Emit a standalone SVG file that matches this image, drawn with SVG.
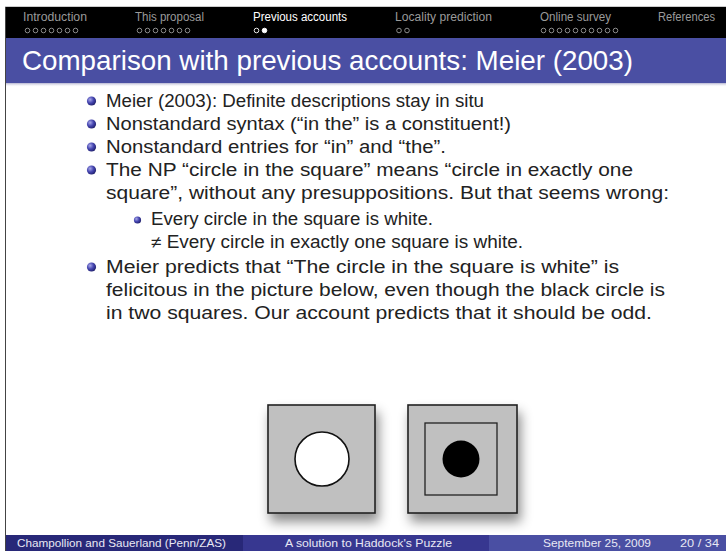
<svg xmlns="http://www.w3.org/2000/svg" width="726" height="551" viewBox="0 0 726 551">
<style>
.hd{font-family:"Liberation Sans",Arial,sans-serif;font-size:12px;fill:#9a9a9a}
.hd.act{fill:#ffffff}
.dot{fill:none;stroke:#9a9a9a;stroke-width:0.9}
.dot.act{stroke:#ffffff}
.dotf{fill:#ffffff;stroke:#ffffff;stroke-width:0.9}
.ttl{font-family:"Liberation Sans",Arial,sans-serif;font-size:27.5px;fill:#ffffff}
.b{font-family:"Liberation Sans",Arial,sans-serif;font-size:18.7px;fill:#222222}
.s{font-family:"Liberation Sans",Arial,sans-serif;font-size:17.5px;fill:#222222}
.ft{font-family:"Liberation Sans",Arial,sans-serif;font-size:11.5px;fill:#e8e8f4}
.sq{fill:#c0c0c0;stroke:#222222;stroke-width:1.6}
</style>
<defs>
<radialGradient id="ball" cx="0.35" cy="0.35" r="0.75">
<stop offset="0" stop-color="#a8a8e8"/>
<stop offset="0.5" stop-color="#4545b0"/>
<stop offset="1" stop-color="#1a1a60"/>
</radialGradient>
<linearGradient id="tshadow" x1="0" y1="0" x2="0" y2="1">
<stop offset="0" stop-color="#8080b0" stop-opacity="0.6"/>
<stop offset="1" stop-color="#ffffff" stop-opacity="0"/>
</linearGradient>
<filter id="shadow" x="-20%" y="-20%" width="150%" height="150%">
<feDropShadow dx="3" dy="8" stdDeviation="6" flood-color="#000000" flood-opacity="0.45"/>
</filter>
</defs>
<rect x="0" y="0" width="726" height="551" fill="#ffffff"/>
<line x1="5" y1="6.5" x2="726" y2="6.5" stroke="#cccccc" stroke-width="1"/>
<line x1="5.5" y1="7" x2="5.5" y2="551" stroke="#444444" stroke-width="1"/>

<g id="header">
<rect x="6" y="7" width="720" height="31" fill="#000000"/>
<text class="hd" x="23" y="21" textLength="64" lengthAdjust="spacingAndGlyphs">Introduction</text>
<text class="hd" x="135" y="21" textLength="69" lengthAdjust="spacingAndGlyphs">This proposal</text>
<text class="hd act" x="253" y="21" textLength="94" lengthAdjust="spacingAndGlyphs">Previous accounts</text>
<text class="hd" x="395" y="21" textLength="97" lengthAdjust="spacingAndGlyphs">Locality prediction</text>
<text class="hd" x="540" y="21" textLength="71" lengthAdjust="spacingAndGlyphs">Online survey</text>
<text class="hd" x="658" y="21" textLength="57" lengthAdjust="spacingAndGlyphs">References</text>
<g>
<circle class="dot" cx="27.5" cy="30.5" r="2.3"/><circle class="dot" cx="35.5" cy="30.5" r="2.3"/><circle class="dot" cx="43.5" cy="30.5" r="2.3"/><circle class="dot" cx="51.5" cy="30.5" r="2.3"/><circle class="dot" cx="59.5" cy="30.5" r="2.3"/><circle class="dot" cx="67.5" cy="30.5" r="2.3"/><circle class="dot" cx="75.5" cy="30.5" r="2.3"/>
<circle class="dot" cx="139.5" cy="30.5" r="2.3"/><circle class="dot" cx="147.5" cy="30.5" r="2.3"/><circle class="dot" cx="155.5" cy="30.5" r="2.3"/><circle class="dot" cx="163.5" cy="30.5" r="2.3"/><circle class="dot" cx="171.5" cy="30.5" r="2.3"/><circle class="dot" cx="179.5" cy="30.5" r="2.3"/><circle class="dot" cx="187.5" cy="30.5" r="2.3"/>
<circle class="dot act" cx="256.5" cy="30.5" r="2.3"/><circle class="dotf" cx="264.5" cy="30.5" r="2.3"/>
<circle class="dot" cx="399" cy="30.5" r="2.3"/><circle class="dot" cx="407" cy="30.5" r="2.3"/>
<circle class="dot" cx="543.5" cy="30.5" r="2.3"/><circle class="dot" cx="551.5" cy="30.5" r="2.3"/><circle class="dot" cx="559.5" cy="30.5" r="2.3"/><circle class="dot" cx="567.5" cy="30.5" r="2.3"/><circle class="dot" cx="575.5" cy="30.5" r="2.3"/><circle class="dot" cx="583.5" cy="30.5" r="2.3"/><circle class="dot" cx="591.5" cy="30.5" r="2.3"/><circle class="dot" cx="599.5" cy="30.5" r="2.3"/><circle class="dot" cx="607.5" cy="30.5" r="2.3"/><circle class="dot" cx="615.5" cy="30.5" r="2.3"/>
</g>
</g>

<g id="title">
<rect x="6" y="38" width="720" height="45" fill="#4a4fa3"/>
<rect x="6" y="83" width="720" height="4" fill="url(#tshadow)"/>
<text class="ttl" x="22" y="70" textLength="611" lengthAdjust="spacingAndGlyphs">Comparison with previous accounts: Meier (2003)</text>
</g>

<g id="body">
<circle cx="91.5" cy="101" r="4.6" fill="url(#ball)"/>
<text class="b" x="106" y="107" textLength="378" lengthAdjust="spacingAndGlyphs">Meier (2003): Definite descriptions stay in situ</text>
<circle cx="91.5" cy="124" r="4.6" fill="url(#ball)"/>
<text class="b" x="106" y="130" textLength="405" lengthAdjust="spacingAndGlyphs">Nonstandard syntax (“in the” is a constituent!)</text>
<circle cx="91.5" cy="147" r="4.6" fill="url(#ball)"/>
<text class="b" x="106" y="153" textLength="340" lengthAdjust="spacingAndGlyphs">Nonstandard entries for “in” and “the”.</text>
<circle cx="91.5" cy="170" r="4.6" fill="url(#ball)"/>
<text class="b" x="106" y="176" textLength="527" lengthAdjust="spacingAndGlyphs">The NP “circle in the square” means “circle in exactly one</text>
<text class="b" x="106" y="199" textLength="563" lengthAdjust="spacingAndGlyphs">square”, without any presuppositions. But that seems wrong:</text>
<circle cx="137.5" cy="220" r="3.6" fill="url(#ball)"/>
<text class="s" x="151" y="225" textLength="282" lengthAdjust="spacingAndGlyphs">Every circle in the square is white.</text>
<text class="s" x="151" y="248" textLength="372" lengthAdjust="spacingAndGlyphs">≠ Every circle in exactly one square is white.</text>
<circle cx="91.5" cy="267" r="4.6" fill="url(#ball)"/>
<text class="b" x="106" y="273" textLength="513" lengthAdjust="spacingAndGlyphs">Meier predicts that “The circle in the square is white” is</text>
<text class="b" x="106" y="296" textLength="559" lengthAdjust="spacingAndGlyphs">felicitous in the picture below, even though the black circle is</text>
<text class="b" x="106" y="319" textLength="546" lengthAdjust="spacingAndGlyphs">in two squares. Our account predicts that it should be odd.</text>
</g>

<g id="picture-left">
<rect class="sq" x="268" y="405" width="107" height="108" filter="url(#shadow)"/>
<circle cx="322" cy="459" r="27" fill="#ffffff" stroke="#111111" stroke-width="1.6"/>
</g>
<g id="picture-right">
<rect class="sq" x="408" y="405" width="109" height="108" filter="url(#shadow)"/>
<rect x="425" y="423" width="72" height="72" fill="#c0c0c0" stroke="#222222" stroke-width="1.3"/>
<circle cx="461" cy="459" r="18.5" fill="#000000"/>
</g>

<g id="footer">
<rect x="6" y="535" width="237" height="16" fill="#282878"/>
<rect x="243" y="535" width="246" height="16" fill="#373790"/>
<rect x="489" y="535" width="237" height="16" fill="#4a4fa3"/>
<text class="ft" x="17" y="547" textLength="209" lengthAdjust="spacingAndGlyphs">Champollion and Sauerland  (Penn/ZAS)</text>
<text class="ft" x="285" y="547" textLength="167" lengthAdjust="spacingAndGlyphs">A solution to Haddock's Puzzle</text>
<text class="ft" x="543" y="547" textLength="108" lengthAdjust="spacingAndGlyphs">September 25, 2009</text>
<text class="ft" x="680" y="547" textLength="39" lengthAdjust="spacingAndGlyphs">20 / 34</text>
</g>
</svg>
